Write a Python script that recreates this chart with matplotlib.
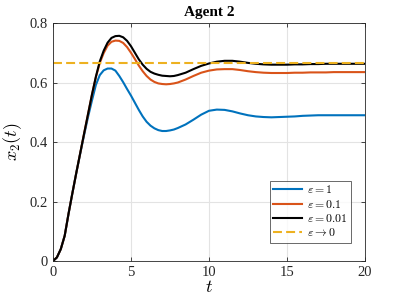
import numpy as np
from matplotlib import pyplot as plt

plt.rcParams["font.family"] = ["Liberation Serif", "DejaVu Serif"]
plt.rcParams["mathtext.fontset"] = "cm"

# time samples (finer during the transient)
t = [0, 0.25, 0.5, 0.75, 1.0, 1.25, 1.5, 1.75, 2.0, 2.25, 2.5, 2.75, 3.0,
     3.25, 3.5, 3.75, 4.0, 4.25, 4.5, 4.75, 5.0, 5.25, 5.5, 5.75, 6.0,
     6.25, 6.5, 6.75, 7.0, 7.25, 7.5, 7.75, 8.0,
     8.5, 9.0, 9.5, 10.0, 10.5, 11.0, 11.5, 12.0, 12.5, 13.0, 13.5, 14.0,
     14.5, 15.0, 15.5, 16.0, 16.5, 17.0, 17.5, 18.0, 18.5, 19.0, 19.5, 20.0]

# eps = 1
x_eps1 = [0, 0.012, 0.040, 0.085, 0.160, 0.230, 0.298, 0.362, 0.425, 0.485,
          0.540, 0.592, 0.625, 0.641, 0.647, 0.647, 0.640, 0.622, 0.601,
          0.578, 0.556, 0.532, 0.508, 0.486, 0.468, 0.455, 0.446, 0.440,
          0.437, 0.437, 0.439, 0.442, 0.447,
          0.459, 0.475, 0.492, 0.505, 0.509, 0.508, 0.503, 0.496, 0.490,
          0.486, 0.484, 0.483, 0.484, 0.485, 0.486, 0.488, 0.489, 0.490,
          0.490, 0.490, 0.490, 0.490, 0.490, 0.490]

# eps = 0.1
x_eps01 = [0, 0.012, 0.040, 0.085, 0.160, 0.230, 0.298, 0.364, 0.430, 0.495,
           0.560, 0.618, 0.666, 0.699, 0.724, 0.737, 0.741, 0.740, 0.733,
           0.719, 0.700, 0.679, 0.657, 0.638, 0.622, 0.610, 0.602, 0.597,
           0.595, 0.594, 0.595, 0.597, 0.600,
           0.610, 0.622, 0.633, 0.640, 0.644, 0.645, 0.645, 0.642, 0.638,
           0.635, 0.633, 0.632, 0.632, 0.632, 0.633, 0.633, 0.634, 0.634,
           0.634, 0.635, 0.635, 0.635, 0.635, 0.635]

# eps = 0.01
x_eps001 = [0, 0.012, 0.040, 0.085, 0.160, 0.230, 0.298, 0.364, 0.430, 0.495,
            0.560, 0.620, 0.671, 0.707, 0.734, 0.750, 0.756, 0.757, 0.752,
            0.740, 0.722, 0.700, 0.678, 0.660, 0.646, 0.636, 0.630, 0.626,
            0.623, 0.622, 0.621, 0.622, 0.625,
            0.633, 0.645, 0.656, 0.664, 0.670, 0.673, 0.673, 0.670, 0.666,
            0.663, 0.661, 0.660, 0.660, 0.660, 0.661, 0.661, 0.662, 0.662,
            0.663, 0.663, 0.663, 0.663, 0.663, 0.663]

# eps -> 0 (limit)
x_limit = 2 / 3

fig = plt.figure(figsize=(4.03, 3.03), dpi=100)
ax = fig.add_axes([0.1315, 0.1386, 0.7742, 0.7854])

ax.plot(t, x_eps1, color="#0072BD", lw=1.5, label=r"$\varepsilon = 1$")
ax.plot(t, x_eps01, color="#D95319", lw=1.5, label=r"$\varepsilon = 0.1$")
ax.plot(t, x_eps001, color="black", lw=1.5, label=r"$\varepsilon = 0.01$")
ax.plot([0, 20], [x_limit, x_limit], color="#EDB120", lw=1.5, ls=(0, (4.3, 2)),
        label=r"$\varepsilon \rightarrow 0$")

ax.set_xlim(0, 20)
ax.set_ylim(0, 0.8)
ax.set_xticks([0, 5, 10, 15, 20])
ax.set_yticks([0, 0.2, 0.4, 0.6, 0.8])
ax.set_yticklabels(["0", "0.2", "0.4", "0.6", "0.8"])
ax.grid(True, color="#e3e3e3", lw=0.8)
ax.set_axisbelow(True)
ax.tick_params(direction="in", top=True, right=True, length=3, width=0.6,
               colors="#262626", labelsize=10.5)
for s in ax.spines.values():
    s.set_color("#262626")
    s.set_linewidth(0.6)

ax.set_title("Agent 2", fontsize=11, fontweight="bold", pad=5)
ax.set_xlabel(r"$t$", fontsize=13, labelpad=0)
ax.set_ylabel(r"$x_2(t)$", fontsize=13, labelpad=4)

leg = ax.legend(loc="lower right", bbox_to_anchor=(0.955, 0.076), fontsize=8.5,
                frameon=True, fancybox=False, handlelength=2.4,
                borderpad=0.3, labelspacing=0.2, handletextpad=0.4,
                borderaxespad=0)
leg.get_frame().set_edgecolor("#262626")
leg.get_frame().set_linewidth(0.6)

plt.savefig("out.png", dpi=100)
